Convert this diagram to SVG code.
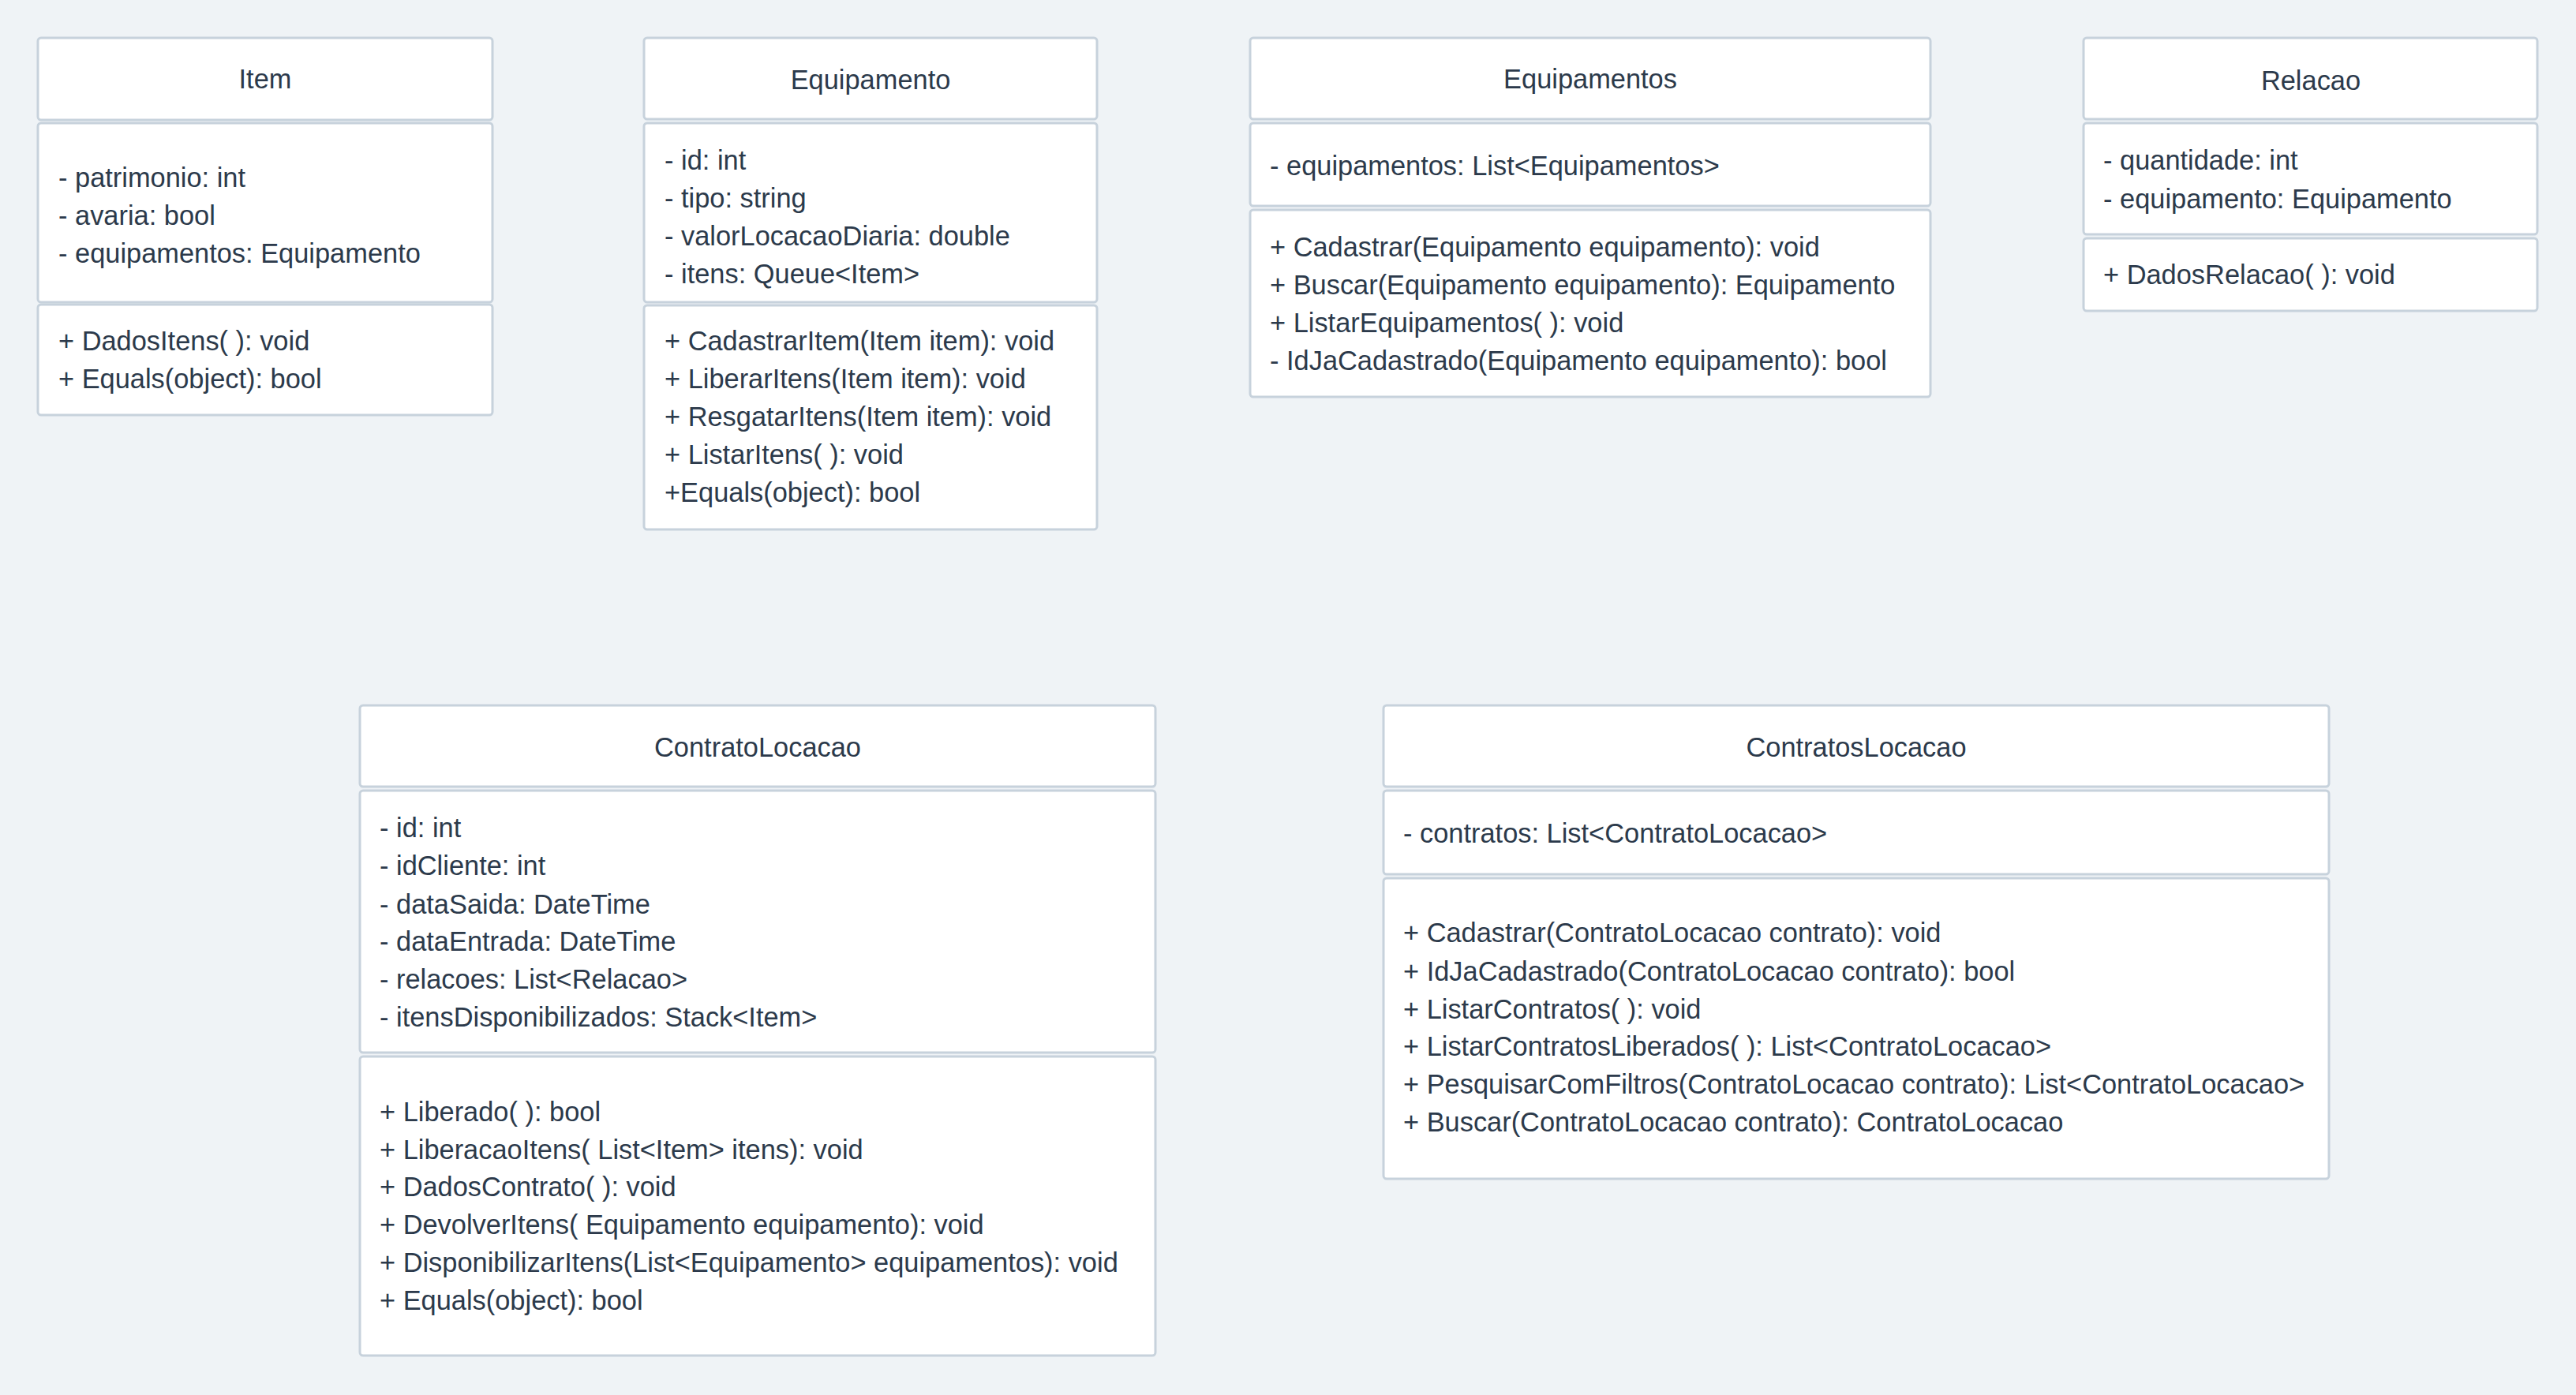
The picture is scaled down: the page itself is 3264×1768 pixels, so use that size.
<svg xmlns="http://www.w3.org/2000/svg" width="3264" height="1768" viewBox="0 0 3264 1768">
<style>
.bg{fill:#eff3f6}
.box{fill:#ffffff;stroke:#c7d2dc;stroke-width:3}
.t{font-family:"Liberation Sans",Arial,sans-serif;font-size:34.4px;fill:#2c3a4b}
.c{text-anchor:middle}
</style>
<rect class="bg" x="0" y="0" width="3264" height="1768"/>
<g id="Item">
<rect class="box" x="48" y="48" width="576" height="104" rx="4"/>
<rect class="box" x="48" y="156" width="576" height="227" rx="4"/>
<rect class="box" x="48" y="386" width="576" height="140" rx="4"/>
<text class="t c" x="336" y="112">Item</text>
<text class="t" x="74" y="237">- patrimonio: int</text>
<text class="t" x="74" y="285">- avaria: bool</text>
<text class="t" x="74" y="333">- equipamentos: Equipamento</text>
<text class="t" x="74" y="444">+ DadosItens( ): void</text>
<text class="t" x="74" y="492">+ Equals(object): bool</text>
</g>
<g id="Equipamento">
<rect class="box" x="816" y="48" width="574" height="103" rx="4"/>
<rect class="box" x="816" y="156" width="574" height="227" rx="4"/>
<rect class="box" x="816" y="387" width="574" height="284" rx="4"/>
<text class="t c" x="1103" y="113">Equipamento</text>
<text class="t" x="842" y="215">- id: int</text>
<text class="t" x="842" y="263">- tipo: string</text>
<text class="t" x="842" y="311">- valorLocacaoDiaria: double</text>
<text class="t" x="842" y="359">- itens: Queue&lt;Item&gt;</text>
<text class="t" x="842" y="444">+ CadastrarItem(Item item): void</text>
<text class="t" x="842" y="492">+ LiberarItens(Item item): void</text>
<text class="t" x="842" y="540">+ ResgatarItens(Item item): void</text>
<text class="t" x="842" y="588">+ ListarItens( ): void</text>
<text class="t" x="842" y="636">+Equals(object): bool</text>
</g>
<g id="Equipamentos">
<rect class="box" x="1584" y="48" width="862" height="103" rx="4"/>
<rect class="box" x="1584" y="156" width="862" height="105" rx="4"/>
<rect class="box" x="1584" y="266" width="862" height="237" rx="4"/>
<text class="t c" x="2015" y="112">Equipamentos</text>
<text class="t" x="1609" y="222">- equipamentos: List&lt;Equipamentos&gt;</text>
<text class="t" x="1609" y="325">+ Cadastrar(Equipamento equipamento): void</text>
<text class="t" x="1609" y="373">+ Buscar(Equipamento equipamento): Equipamento</text>
<text class="t" x="1609" y="421">+ ListarEquipamentos( ): void</text>
<text class="t" x="1609" y="469">- IdJaCadastrado(Equipamento equipamento): bool</text>
</g>
<g id="Relacao">
<rect class="box" x="2640" y="48" width="575" height="103" rx="4"/>
<rect class="box" x="2640" y="156" width="575" height="141" rx="4"/>
<rect class="box" x="2640" y="302" width="575" height="92" rx="4"/>
<text class="t c" x="2928" y="114">Relacao</text>
<text class="t" x="2665" y="215">- quantidade: int</text>
<text class="t" x="2665" y="264">- equipamento: Equipamento</text>
<text class="t" x="2665" y="360">+ DadosRelacao( ): void</text>
</g>
<g id="ContratoLocacao">
<rect class="box" x="456" y="894" width="1008" height="103" rx="4"/>
<rect class="box" x="456" y="1002" width="1008" height="332" rx="4"/>
<rect class="box" x="456" y="1339" width="1008" height="379" rx="4"/>
<text class="t c" x="960" y="959">ContratoLocacao</text>
<text class="t" x="481" y="1061">- id: int</text>
<text class="t" x="481" y="1109">- idCliente: int</text>
<text class="t" x="481" y="1158">- dataSaida: DateTime</text>
<text class="t" x="481" y="1205">- dataEntrada: DateTime</text>
<text class="t" x="481" y="1253">- relacoes: List&lt;Relacao&gt;</text>
<text class="t" x="481" y="1301">- itensDisponibilizados: Stack&lt;Item&gt;</text>
<text class="t" x="481" y="1421">+ Liberado( ): bool</text>
<text class="t" x="481" y="1469">+ LiberacaoItens( List&lt;Item&gt; itens): void</text>
<text class="t" x="481" y="1516">+ DadosContrato( ): void</text>
<text class="t" x="481" y="1564">+ DevolverItens( Equipamento equipamento): void</text>
<text class="t" x="481" y="1612">+ DisponibilizarItens(List&lt;Equipamento&gt; equipamentos): void</text>
<text class="t" x="481" y="1660">+ Equals(object): bool</text>
</g>
<g id="ContratosLocacao">
<rect class="box" x="1753" y="894" width="1198" height="103" rx="4"/>
<rect class="box" x="1753" y="1002" width="1198" height="106" rx="4"/>
<rect class="box" x="1753" y="1113" width="1198" height="381" rx="4"/>
<text class="t c" x="2352" y="959">ContratosLocacao</text>
<text class="t" x="1778" y="1068">- contratos: List&lt;ContratoLocacao&gt;</text>
<text class="t" x="1778" y="1194">+ Cadastrar(ContratoLocacao contrato): void</text>
<text class="t" x="1778" y="1243">+ IdJaCadastrado(ContratoLocacao contrato): bool</text>
<text class="t" x="1778" y="1291">+ ListarContratos( ): void</text>
<text class="t" x="1778" y="1338">+ ListarContratosLiberados( ): List&lt;ContratoLocacao&gt;</text>
<text class="t" x="1778" y="1386">+ PesquisarComFiltros(ContratoLocacao contrato): List&lt;ContratoLocacao&gt;</text>
<text class="t" x="1778" y="1434">+ Buscar(ContratoLocacao contrato): ContratoLocacao</text>
</g>
<g id="connectors"></g>
</svg>
